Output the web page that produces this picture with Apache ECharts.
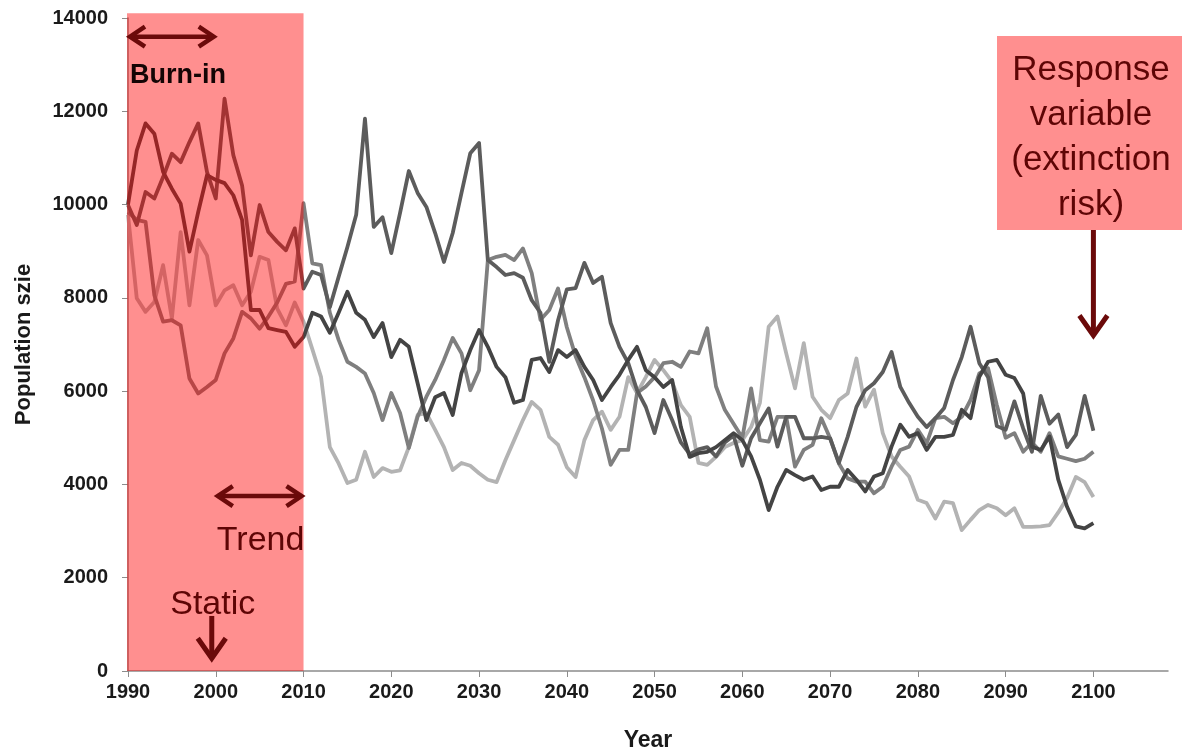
<!DOCTYPE html>
<html><head><meta charset="utf-8">
<script src="https://cdn.jsdelivr.net/npm/echarts@6/dist/echarts.min.js"></script>
<style>html,body{margin:0;padding:0;background:#fff}#c{width:1182px;height:752px}</style>
</head><body><div id="c"></div>
<script>
const startYear = 1990;
const endYear = 2100;
const xTickYears = [1990, 2000, 2010, 2020, 2030, 2040, 2050, 2060, 2070, 2080, 2090, 2100];
const yTicks = [0, 2000, 4000, 6000, 8000, 10000, 12000, 14000];

// darkest line
const seriesDark = [
  10000, 11160, 11740, 11520, 10700, 10340, 10020, 8990, 9840, 10630,
  10530, 10460, 10200, 9670, 7740, 7740, 7350, 7310, 7270, 6950,
  7160, 7680, 7600, 7250, 7680, 8130, 7680, 7530, 7160, 7460,
  6730, 7100, 6950, 6170, 5380, 5870, 5960, 5490, 6390, 6880,
  7310, 6950, 6520, 6300, 5750, 5810, 6670, 6710, 6410, 6880,
  6730, 6880, 6520, 6240, 5810, 6090, 6350, 6670, 6950, 6450,
  6300, 6090, 6240, 5230, 4590, 4670, 4700, 4800, 4950, 5100,
  4950, 4600, 4100, 3450, 3950, 4310, 4200, 4100, 4170, 3880,
  3950, 3950, 4310, 4100, 3850, 4170, 4240, 4810, 5280, 5020,
  5100, 4740, 5020, 5020, 5060, 5600, 5420, 6310, 6630, 6670,
  6350, 6280, 5950, 4810, 4740, 5030, 4100, 3520, 3100, 3060,
  3170
];
// dark-medium line (12000 / 11800 peaks)
const seriesDarkMid = [
  9990, 9560, 10270, 10130, 10590, 11090, 10910, 11340, 11740, 10700,
  10130, 12270, 11060, 10410, 8910, 9990, 9410, 9200, 9020, 9490,
  8200, 8560, 8490, 7800, 8450, 9090, 9780, 11840, 9520, 9730,
  8960, 9820, 10720, 10250, 9950, 9390, 8770, 9390, 10250, 11100,
  11320, 8810, 8660, 8490, 8530, 8430, 7950, 7680, 6630, 7520,
  8180, 8210, 8750, 8320, 8450, 7460, 6950, 6600, 6020, 5660,
  5100, 5810, 5380, 4900, 4650, 4750, 4800, 4600, 4900, 5050,
  4400, 4990, 5310, 5630, 4810, 5450, 5450, 4990, 4990, 5020,
  4990, 4460, 5020, 5660, 6020, 6170, 6410, 6840, 6090, 5750,
  5450, 5230, 5420, 5640, 6240, 6730, 7380, 6600, 6300, 5250,
  5170, 5780, 5200, 4700, 5900, 5300, 5500, 4800, 5060, 5900,
  5150
];
// medium line
const seriesMid = [
  9840, 9670, 9630, 8060, 7490, 7520, 7410, 6270, 5950, 6090,
  6240, 6810, 7130, 7700, 7560, 7340, 7600, 7900, 8300, 8350,
  10030, 8740, 8700, 7680, 7100, 6630, 6520, 6380, 5960, 5380,
  5960, 5530, 4780, 5450, 5880, 6240, 6670, 7140, 6810, 6020,
  6450, 8810, 8880, 8920, 8810, 9060, 8530, 7530, 7740, 8200,
  7370, 6750, 6300, 5800, 5200, 4420, 4740, 4740, 5960, 6100,
  6300, 6600, 6630, 6520, 6850, 6810, 7350, 6100, 5600, 5300,
  5000, 6060, 4950, 4920, 5450, 5450, 4380, 4740, 4850, 5420,
  4990, 4450, 4130, 4060, 4060, 3810, 3950, 4380, 4740, 4810,
  5170, 4880, 5420, 5450, 5310, 5450, 5810, 6380, 6490, 5700,
  5000, 5100, 4700, 4900, 4700, 5100, 4600, 4550, 4500, 4550,
  4700
];
// light line
const seriesLight = [
  9780, 7990, 7700, 7910, 8700, 7560, 9410, 7840, 9240, 8910,
  7840, 8160, 8270, 7840, 8130, 8880, 8810, 7770, 7410, 7900,
  7490, 6900, 6300, 4800, 4450, 4030, 4100, 4700, 4160, 4350,
  4270, 4300, 4800, 5490, 5530, 5170, 4800, 4310, 4460, 4400,
  4240, 4100, 4050, 4520, 4950, 5380, 5770, 5600, 5020, 4850,
  4370, 4160, 4950, 5380, 5560, 5170, 5450, 6300, 5960, 6300,
  6670, 6450, 6200, 5700, 5450, 4460, 4420, 4590, 4800, 4890,
  4950, 5230, 5750, 7380, 7600, 6810, 6060, 7030, 5880, 5600,
  5420, 5810, 5950, 6700, 5670, 6030, 5100, 4600, 4380, 4170,
  3670, 3600, 3270, 3630, 3600, 3020, 3240, 3450, 3560, 3490,
  3340, 3490, 3090, 3090, 3100, 3130, 3400, 3710, 4160, 4050,
  3730
];

const years = [];
for (let y = startYear; y <= endYear; y++) years.push(y);
const pairs = arr => arr.map((v, i) => [years[i], v]);

const chart = echarts.init(document.getElementById('c'), null, {renderer: 'canvas'});
const labelFont = "'Liberation Sans', Arial, sans-serif";
const axisGray = '#8c8c8c';
const plain = v => String(Math.round(v));

function lineSeries(name, data, color) {
  return {
    name, type: 'line', data: pairs(data), showSymbol: false, symbol: 'none',
    lineStyle: {color, width: 3.8, join: 'round'}, z: 2, animation: false
  };
}

chart.setOption({
  animation: false,
  backgroundColor: '#ffffff',
  grid: {left: 128, right: 14, top: 18, bottom: 81, containLabel: false, outerBoundsMode: 'none'},
  xAxis: {
    type: 'value', min: 1990, max: 2108.5,
    name: 'Year', nameLocation: 'middle', nameGap: 58,
    nameTextStyle: {fontFamily: labelFont, fontWeight: 'bold', fontSize: 23, color: '#1a1a1a'},
    axisLine: {show: true, lineStyle: {color: axisGray, width: 1.5}},
    axisTick: {show: true, length: 6, lineStyle: {color: axisGray}, customValues: xTickYears},
    axisLabel: {fontFamily: labelFont, fontWeight: 'bold', fontSize: 20, color: '#1a1a1a', margin: 11,
                customValues: xTickYears, formatter: plain},
    splitLine: {show: false}
  },
  yAxis: {
    type: 'value', min: 0, max: 14000, interval: 2000,
    name: 'Population szie', nameLocation: 'middle', nameGap: 93,
    nameTextStyle: {fontFamily: labelFont, fontWeight: 'bold', fontSize: 22, color: '#1a1a1a'},
    axisLine: {show: true, lineStyle: {color: axisGray, width: 1.5}},
    axisTick: {show: true, length: 6, lineStyle: {color: axisGray}},
    axisLabel: {fontFamily: labelFont, fontWeight: 'bold', fontSize: 20, color: '#1a1a1a', margin: 20, formatter: plain},
    splitLine: {show: false}
  },
  series: [
    lineSeries('Light', seriesLight, '#b3b3b3'),
    lineSeries('Medium', seriesMid, '#7f7f7f'),
    lineSeries('Dark-medium', seriesDarkMid, '#5c5c5c'),
    lineSeries('Dark', seriesDark, '#444444')
  ]
});

function drawAnnotations() {
  const p = (x, y) => chart.convertToPixel({gridIndex: 0}, [x, y]);
  const arrowColor = '#6b0a0a';
  const textColor = '#5e0505';
  const [xa, yTop] = p(1990, 14100);
  const [xb, yBase] = p(2010, 0);
  const x2000 = p(2000, 0)[0];
  const x2100 = p(2100, 0)[0];
  const els = [];
  // translucent red band over burn-in period
  els.push({type: 'rect', z: 100, shape: {x: xa - 1, y: yTop, width: xb - xa + 1, height: yBase - yTop},
            style: {fill: 'rgba(255,0,0,0.44)'}, silent: true});
  function hArrow(x1, x2, y) {
    els.push({type: 'polyline', z: 110, shape: {points: [[x1 + 2, y], [x2 - 2, y]]}, style: {stroke: arrowColor, lineWidth: 4.5, fill: null}});
    els.push({type: 'polyline', z: 110, shape: {points: [[x1 + 17, y - 10], [x1 + 2, y], [x1 + 17, y + 10]]}, style: {stroke: arrowColor, lineWidth: 4.5, fill: null, lineJoin: 'miter'}});
    els.push({type: 'polyline', z: 110, shape: {points: [[x2 - 17, y - 10], [x2 - 2, y], [x2 - 17, y + 10]]}, style: {stroke: arrowColor, lineWidth: 4.5, fill: null, lineJoin: 'miter'}});
  }
  function vArrow(x, y1, y2, w) {
    els.push({type: 'polyline', z: 110, shape: {points: [[x, y1], [x, y2 - 2]]}, style: {stroke: arrowColor, lineWidth: w, fill: null}});
    els.push({type: 'polyline', z: 110, shape: {points: [[x - 14, y2 - 22], [x, y2 - 2], [x + 14, y2 - 22]]}, style: {stroke: arrowColor, lineWidth: w, fill: null, lineJoin: 'miter'}});
  }
  hArrow(xa, x2000, p(1990, 13600)[1]);
  els.push({type: 'text', z: 120, style: {text: 'Burn-in', x: xa + 2, y: p(1990, 12760)[1], fill: '#140505',
            font: "bold 27px 'Liberation Sans', Arial, sans-serif", align: 'left', verticalAlign: 'middle'}});
  hArrow(x2000, xb, p(2000, 3750)[1]);
  els.push({type: 'text', z: 120, style: {text: 'Trend', x: (x2000 + xb) / 2 + 1, y: p(2000, 2800)[1], fill: textColor,
            font: "34px 'Liberation Sans', Arial, sans-serif", align: 'center', verticalAlign: 'middle'}});
  els.push({type: 'text', z: 120, style: {text: 'Static', x: x2000 - 3, y: p(2000, 1430)[1], fill: textColor,
            font: "34px 'Liberation Sans', Arial, sans-serif", align: 'center', verticalAlign: 'middle'}});
  vArrow(x2000 - 4, p(2000, 1180)[1], p(2000, 230)[1], 5);
  // response box
  els.push({type: 'rect', z: 100, shape: {x: 997, y: 36, width: 185, height: 194}, style: {fill: '#ff8f8f'}, silent: true});
  els.push({type: 'text', z: 120, style: {text: 'Response\nvariable\n(extinction\nrisk)', x: 1091, y: 138, fill: textColor,
            font: "35px 'Liberation Sans', Arial, sans-serif", lineHeight: 45, align: 'center', verticalAlign: 'middle'}});
  vArrow(x2100, 230, p(2100, 7150)[1], 5);
  chart.setOption({graphic: {elements: els}});
}
drawAnnotations();
</script>
</body></html>
